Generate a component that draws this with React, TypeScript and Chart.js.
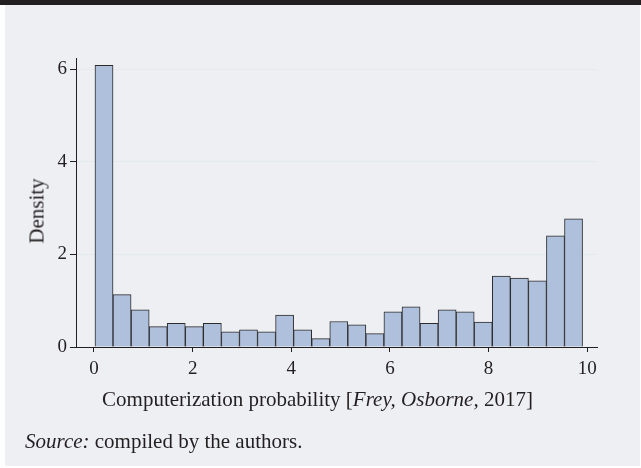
import React, { useEffect, useRef } from "react";
import { Chart, registerables } from "chart.js";

Chart.register(...registerables);

// Histogram bins (bin centers, computerization probability scale 0–10)
const binCenters = [
  0.203, 0.569, 0.936, 1.302, 1.668, 2.034, 2.4, 2.767, 3.133, 3.499, 3.865, 4.231, 4.598, 4.964,
  5.33, 5.696, 6.062, 6.429, 6.795, 7.161, 7.527, 7.893, 8.26, 8.626, 8.992, 9.358, 9.724,
];
// Density values
const densities = [
  6.08, 1.13, 0.8, 0.44, 0.51, 0.44, 0.51, 0.33, 0.37, 0.33, 0.69, 0.37, 0.18, 0.55,
  0.48, 0.29, 0.76, 0.87, 0.51, 0.8, 0.76, 0.54, 1.53, 1.49, 1.43, 2.4, 2.77,
];
const xTickValues = [0, 2, 4, 6, 8, 10];
const yTickValues = [0, 2, 4, 6];

const FONT = "'Liberation Serif', 'Times New Roman', serif";
const TEXT = "#231f20";
const BG = "#eeeff3";

export default function App() {
  const canvasRef = useRef<HTMLCanvasElement | null>(null);

  useEffect(() => {
    if (!canvasRef.current) return;
    const chart = new Chart(canvasRef.current, {
      type: "bar",
      data: {
        datasets: [
          {
            data: binCenters.map((x, i) => ({ x, y: densities[i] })),
            backgroundColor: "#afc0dc",
            borderColor: "#2b2b2b",
            borderWidth: 1,
            categoryPercentage: 1,
            barPercentage: 1,
          },
        ],
      },
      options: {
        animation: false,
        responsive: false,
        maintainAspectRatio: false,
        layout: { padding: { top: 58, right: 44, bottom: 0, left: 0 } },
        plugins: { legend: { display: false }, tooltip: { enabled: false } },
        scales: {
          x: {
            type: "linear",
            offset: false,
            min: -0.365,
            max: 10.2,
            afterFit: (s: any) => {
              s.height = 121;
            },
            afterBuildTicks: (s: any) => {
              s.ticks = xTickValues.map((v) => ({ value: v }));
            },
            ticks: {
              includeBounds: false,
              padding: 6,
              color: TEXT,
              font: { family: FONT, size: 19 },
              maxRotation: 0,
              autoSkip: false,
            },
            grid: { offset: false, drawOnChartArea: false, tickColor: TEXT, tickLength: 5 },
            border: { color: TEXT, width: 1 },
          },
          y: {
            min: 0,
            max: 6.24,
            afterFit: (s: any) => {
              s.width = 76;
            },
            afterBuildTicks: (s: any) => {
              s.ticks = yTickValues.map((v) => ({ value: v }));
            },
            ticks: {
              includeBounds: false,
              padding: 3,
              color: TEXT,
              font: { family: FONT, size: 19 },
            },
            grid: { color: "#e3eaec", tickColor: TEXT, tickLength: 6 },
            border: { color: TEXT, width: 1 },
          },
        },
      },
    });
    return () => chart.destroy();
  }, []);

  return (
    <div
      style={{
        position: "fixed",
        left: 0,
        top: 0,
        width: 641,
        height: 468,
        background: "#ffffff",
        overflow: "hidden",
        fontFamily: FONT,
        color: TEXT,
      }}
    >
      <div style={{ position: "absolute", left: 0, top: 0, width: 641, height: 5, background: "#231f20" }} />
      <div style={{ position: "absolute", left: 5, top: 5, width: 635, height: 461, background: BG }} />
      <canvas
        ref={canvasRef}
        width={641}
        height={468}
        style={{ position: "absolute", left: 0, top: 0, width: 641, height: 468 }}
      />
      <div
        style={{
          position: "absolute",
          left: 36.5,
          top: 210.5,
          transform: "translate(-50%, -50%) rotate(-90deg)",
          fontSize: 21,
          whiteSpace: "nowrap",
          lineHeight: 1,
        }}
      >
        Density
      </div>
      <div
        style={{
          position: "absolute",
          left: 317.5,
          top: 399,
          transform: "translate(-50%, -50%)",
          fontSize: 21,
          whiteSpace: "nowrap",
          lineHeight: 1,
        }}
      >
        Computerization probability [<i>Frey, Osborne,</i> 2017]
      </div>
      <div
        style={{
          position: "absolute",
          left: 25,
          top: 441,
          transform: "translateY(-50%)",
          fontSize: 21,
          whiteSpace: "nowrap",
          lineHeight: 1,
        }}
      >
        <i>Source:</i> compiled by the authors.
      </div>
    </div>
  );
}
